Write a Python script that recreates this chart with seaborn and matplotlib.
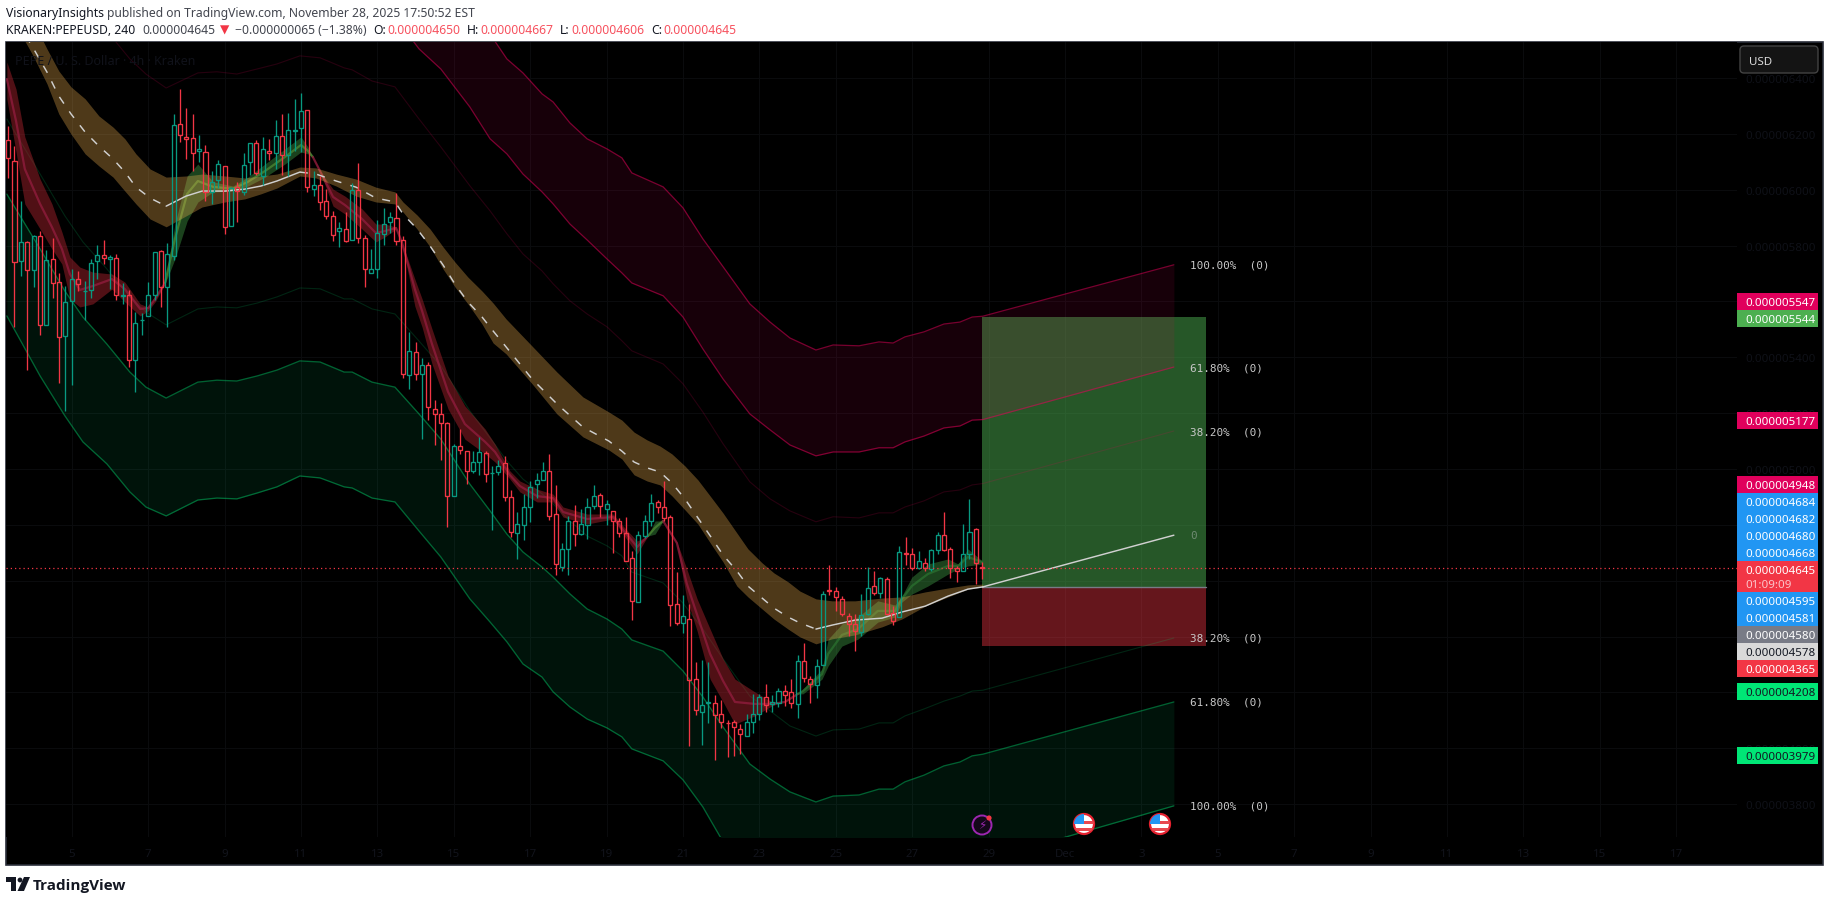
#RECREATING THE PEPEUSD 4H TRADINGVIEW SCREENSHOT
import matplotlib
matplotlib.use('Agg')
import matplotlib.pyplot as plt
from matplotlib.patches import Circle, FancyBboxPatch, Polygon, Rectangle
import numpy as np
import seaborn as sns

#CANDLES, PRICES IN BILLIONTHS OF A DOLLAR
opens = [6177,6102,5744,5814,5714,5833,5515,5751,5668,5475,5600,5679,5636,5640,5744,5765,5751,5754,5621,5622,
         5389,5534,5547,5622,5779,5651,5762,6234,6190,6184,6137,6134,5991,6034,6084,5869,6008,5991,6098,6166,
         6048,6137,6130,6191,6123,6211,6220,6284,6001,6016,5958,5905,5851,5858,5821,5998,5826,5703,5715,5840,
         5883,5898,5819,5336,5418,5339,5371,5214,5196,5164,4903,5082,5064,4992,5024,5056,4986,4988,5020,4899,
         4772,4798,4863,4945,4959,4992,4838,4648,4713,4813,4766,4798,4866,4906,4856,4849,4813,4770,4680,4523,
         4759,4813,4881,4863,4827,4516,4448,4462,4247,4129,4164,4161,4122,4092,4093,4068,4043,4093,4122,4183,
         4157,4161,4204,4201,4158,4312,4247,4226,4297,4566,4562,4534,4473,4444,4415,4480,4580,4555,4605,4483,
         4469,4698,4695,4644,4662,4641,4709,4763,4712,4644,4634,4695,4784,4650]
highs = [6227,6155,5958,5818,5836,5851,5783,5827,5701,5654,5715,5709,5672,5751,5801,5820,5765,5769,5665,5640,
         5562,5559,5668,5776,5783,5809,6270,6360,6292,6270,6196,6159,6066,6105,6084,6008,6028,6130,6166,6177,
         6187,6181,6248,6270,6273,6323,6346,6284,6066,6048,6001,5923,5883,5919,6023,6096,5838,5788,5890,5933,
         5920,5988,5833,5490,5454,5396,5382,5246,5235,5167,5089,5144,5064,5064,5114,5064,5011,5031,5045,4924,
         4846,4911,4956,4985,5025,5053,4942,4734,4831,4870,4856,4895,4942,4913,4888,4849,4823,4827,4705,4777,
         4834,4909,4888,4956,4834,4630,4548,4516,4308,4315,4308,4190,4172,4101,4101,4086,4122,4194,4194,4231,
         4191,4215,4226,4248,4333,4377,4258,4319,4562,4656,4576,4544,4483,4480,4551,4648,4634,4612,4612,4508,
         4723,4755,4716,4705,4680,4712,4773,4845,4720,4652,4802,4893,4788,4667]
lows = [6040,5510,5692,5356,5653,5478,5515,5612,5309,5206,5299,5639,5535,5612,5680,5735,5646,5606,5589,5364,
        5277,5478,5547,5606,5581,5510,5750,6172,6111,6066,6100,5958,5950,6006,5843,5869,5886,5980,6054,6054,
        6018,6108,6073,6054,6048,6137,6134,5993,5979,5929,5896,5818,5793,5814,5821,5810,5652,5702,5682,5803,
        5844,5803,5324,5288,5320,5109,5177,5086,5034,4794,4903,5055,4948,4987,4980,4955,4783,4980,4887,4758,
        4679,4745,4812,4895,4959,4816,4622,4634,4622,4726,4763,4748,4856,4829,4801,4701,4758,4672,4461,4523,
        4753,4797,4844,4813,4439,4441,4414,4010,4118,4013,4092,3960,4072,3970,3974,3978,4043,4055,4100,4129,
        4129,4148,4151,4143,4108,4236,4164,4179,4297,4550,4491,4473,4401,4347,4403,4476,4548,4537,4477,4440,
        4469,4656,4637,4641,4634,4634,4695,4705,4609,4594,4634,4677,4587,4606]
closes = [6112,5740,5812,5711,5833,5515,5747,5665,5472,5597,5679,5661,5637,5736,5765,5754,5758,5622,5622,5389,
          5522,5535,5622,5776,5651,5769,6230,6195,6180,6130,6144,5991,6029,6091,5865,6005,5994,6087,6166,6061,
          6144,6130,6191,6123,6212,6212,6280,6008,6016,5957,5905,5836,5862,5815,5998,5826,5715,5715,5844,5876,
          5901,5815,5339,5422,5339,5371,5221,5198,5164,4903,5082,5067,4992,5024,5060,4981,4987,5010,4899,4776,
          4802,4863,4934,4959,4992,4831,4661,4713,4813,4766,4802,4863,4902,4866,4874,4813,4770,4672,4526,4763,
          4813,4877,4863,4826,4512,4448,4473,4244,4136,4154,4165,4118,4093,4091,4075,4050,4093,4122,4183,4154,
          4165,4204,4192,4161,4312,4251,4229,4294,4551,4562,4541,4480,4444,4419,4476,4573,4555,4609,4480,4455,
          4702,4696,4644,4670,4644,4709,4763,4709,4644,4634,4695,4773,4662,4645]

#OUTER BANDS
band_days = [3.30,4.17,4.82,5.29,5.92,6.52,6.94,7.47,8.30,8.80,9.32,9.85,10.37,10.97,11.50,12.13,12.34,12.86,13.46,14.09,
             14.66,15.42,15.95,16.39,16.81,17.31,17.60,18.04,18.49,19.01,19.40,19.66,20.48,21.00,21.52,22.05,22.75,23.28,23.80,24.48,
             24.93,25.61,26.13,26.50,26.81,27.31,27.83,28.25,28.57,28.85,33.85]
green_100 = [5548,5333,5190,5097,5018,4918,4864,4832,4889,4896,4893,4914,4936,4975,4968,4936,4932,4896,4882,4778,
             4685,4535,4452,4381,4302,4255,4202,4148,4105,4073,4041,3998,3955,3887,3790,3665,3532,3479,3436,3396,
             3418,3421,3443,3443,3471,3500,3532,3568,3590,3597,3794]
green_618 = [5984,5788,5637,5544,5447,5347,5293,5254,5311,5318,5315,5333,5354,5387,5383,5347,5347,5311,5293,5197,
             5107,4946,4850,4767,4703,4649,4613,4553,4499,4463,4427,4388,4348,4277,4184,4076,3944,3890,3844,3808,
             3829,3833,3854,3854,3880,3904,3937,3951,3973,3979,4166]
green_382 = [6253,6056,5906,5813,5716,5616,5562,5516,5573,5580,5577,5594,5616,5648,5645,5609,5609,5573,5555,5458,
             5369,5208,5111,5029,4964,4911,4875,4814,4760,4725,4689,4631,4592,4520,4427,4320,4187,4134,4080,4044,
             4066,4069,4091,4091,4116,4141,4169,4187,4205,4208,4395]
red_382 = [7105,6908,6758,6665,6568,6468,6414,6364,6418,6422,6414,6432,6450,6479,6472,6436,6429,6389,6368,6253,
           6153,6014,5924,5842,5770,5709,5663,5602,5555,5509,5459,5423,5376,5305,5204,5090,4954,4893,4850,4811,
           4829,4825,4843,4843,4864,4886,4918,4925,4943,4948,5136]
red_618 = [7356,7159,7009,6915,6819,6719,6665,6615,6668,6672,6665,6683,6697,6726,6719,6683,6675,6640,6618,6504,
           6432,6296,6182,6128,6056,5992,5949,5877,5820,5752,5702,5666,5620,5544,5430,5322,5197,5140,5086,5047,
           5061,5061,5076,5076,5097,5118,5147,5154,5175,5177,5365]
red_100 = [7750,7553,7402,7309,7212,7112,7058,7008,7062,7066,7058,7076,7091,7119,7112,7076,7069,7033,7012,6897,
           6808,6665,6557,6468,6418,6343,6314,6239,6182,6146,6114,6060,6010,5935,5824,5724,5591,5526,5469,5426,
           5444,5441,5455,5451,5473,5491,5519,5526,5544,5547,5731]

#BROWN MOVING AVERAGE BAND
ma_days = [3.30,3.96,4.35,4.66,4.98,5.35,5.71,6.08,6.39,6.68,7.05,7.47,7.99,8.41,9.01,9.53,9.95,10.37,10.97,11.39,
           11.92,12.44,12.96,13.46,13.67,14.04,14.38,14.72,15.03,15.37,15.74,16.03,16.37,17.05,17.70,18.38,19.06,19.40,19.72,20.06,
           20.40,20.71,21.05,21.39,21.73,22.05,22.41,22.70,23.07,23.38,23.75,24.06,24.48,24.90,25.50,26.21,26.73,27.34,27.94,28.46,28.85]
ma_mid = [6657,6514,6421,6335,6271,6206,6156,6110,6063,6009,5970,5941,5977,5995,5995,6002,6013,6031,6063,6056,
          6031,6009,5970,5956,5913,5859,5798,5730,5662,5598,5544,5494,5437,5322,5233,5150,5100,5064,5025,5004,
          4989,4950,4893,4825,4757,4692,4635,4581,4538,4502,4470,4449,4427,4441,4459,4466,4488,4509,4545,4570,4578]
ma_upper = [6772,6611,6504,6425,6368,6325,6264,6224,6182,6128,6074,6045,6049,6056,6049,6042,6049,6056,6081,6078,
            6056,6038,6009,5992,5956,5909,5859,5795,5741,5687,5637,5594,5537,5440,5347,5258,5204,5175,5132,5104,
            5082,5054,5011,4961,4900,4842,4771,4714,4664,4628,4596,4563,4535,4528,4528,4538,4542,4560,4574,4585,4588]
ma_lower = [6647,6486,6379,6271,6199,6128,6085,6045,5995,5949,5895,5867,5906,5938,5956,5967,5985,6006,6049,6042,
            6013,5977,5956,5949,5920,5859,5795,5716,5652,5591,5519,5451,5412,5305,5197,5115,5068,5036,4979,4957,
            4943,4904,4854,4803,4732,4667,4581,4542,4499,4463,4427,4399,4374,4392,4406,4435,4463,4509,4542,4570,4578]
ma_ext_days = [28.85,33.85]
ma_ext = [4578,4763]

#SHORT RIBBON PIECES
r1_days = [3.30,3.54,3.77,4.17,4.48,4.74,4.95,5.21,5.55,6.05,6.39,6.79,7.00,7.18,7.44]
r1_up = [6457,6360,6189,6038,5949,5849,5759,5723,5705,5698,5669,5591,5580,5619,5669]
r1_low = [6325,6135,5949,5859,5788,5734,5609,5580,5591,5644,5598,5548,5566,5598,5662]
r1_mid = [6396,6246,6074,5949,5866,5788,5698,5641,5655,5680,5644,5573,5576,5609,5666]
g1_days = [7.44,7.70,8.02,8.30,8.70,9.22,9.61,10.06,10.58,11.00,11.18,11.31]
g1_up = [5669,5877,6049,6092,6028,6013,6045,6092,6146,6189,6153,6117]
g1_low = [5662,5752,5888,5956,5992,5995,6013,6045,6092,6135,6128,6117]
g1_mid = [5666,5824,5985,6031,6010,6003,6028,6067,6117,6160,6139,6117]
r2_days = [11.31,11.55,11.84,12.15,12.60,12.96,13.20,13.49,13.64]
r2_up = [6117,6056,6002,5977,5931,5877,5877,5866,5813]
r2_low = [6117,6045,5941,5913,5859,5813,5831,5859,5813]
r2_mid = [6117,6053,5974,5945,5895,5845,5852,5863,5813]
r3_days = [13.64,13.98,14.17,14.43,14.85,15.29,15.82,16.08,16.47,16.73,17.18,17.60,17.86,18.49,19.17,19.43,19.80,20.08]
r3_up = [5813,5680,5609,5501,5333,5226,5143,5089,4993,4957,4928,4910,4864,4839,4839,4796,4742,4760]
r3_low = [5813,5583,5508,5376,5215,5107,5054,5025,4964,4918,4882,4882,4828,4803,4821,4767,4696,4760]
r3_mid = [5813,5644,5566,5447,5276,5161,5097,5061,4978,4939,4903,4896,4846,4821,4828,4782,4721,4760]
g2_days = [20.08,20.27,20.48]
g2_up = [4760,4814,4814]
g2_low = [4760,4767,4814]
g2_mid = [4760,4790,4814]
r4_days = [20.48,20.84,21.10,21.37,21.71,22.05,22.36,22.88,23.33,23.67,24.01]
r4_up = [4814,4739,4642,4535,4427,4320,4248,4202,4166,4166,4195]
r4_low = [4814,4732,4535,4420,4248,4166,4087,4116,4152,4170,4195]
r4_mid = [4814,4735,4589,4478,4338,4241,4166,4159,4159,4166,4195]
g3_days = [24.01,24.14,24.64,24.80,25.16,25.58,26.10,26.55,26.73,26.99,27.41,27.94,28.20,28.46,28.83]
g3_up = [4195,4212,4284,4391,4445,4470,4528,4513,4545,4613,4660,4678,4660,4714,4671]
g3_low = [4195,4195,4248,4295,4366,4391,4452,4470,4524,4552,4581,4624,4642,4653,4660]
g3_mid = [4195,4205,4266,4338,4406,4427,4492,4492,4535,4581,4624,4653,4653,4685,4667]

#LONG POSITION BOX
entry_price = 4578
target_price = 5544
stop_price = 4365
box_days = [28.83,34.69]

#TICKS AND LABELS
x_ticks = [5,7,9,11,13,15,17,19,21,23,25,27,29,31,33,35,37,39,41,43,45,47]
x_labels = ['5','7','9','11','13','15','17','19','21','23','25','27','29','Dec','3','5','7','9','11','13','15','17']
y_ticks = [3800,4000,4200,4400,4600,4800,5000,5200,5400,5600,5800,6000,6200,6400]
fib_names = ['100.00%  (0)','61.80%  (0)','38.20%  (0)','0','38.20%  (0)','61.80%  (0)','100.00%  (0)']
fib_prices = [red_100[-1],red_618[-1],red_382[-1],ma_ext[-1],green_382[-1],green_618[-1],green_100[-1]]
fib_colors = ['#c8c8c8','#c8c8c8','#c8c8c8','#6f8a72','#c8c8c8','#c8c8c8','#c8c8c8']

#PRICE TAGS ON THE RIGHT: TEXT, TOP PIXEL, BOX COLOUR, TEXT COLOUR
tag_texts = ['0.000005547','0.000005544','0.000005177','0.000004948','0.000004684','0.000004682','0.000004680','0.000004668',
             '0.000004595','0.000004581','0.000004580','0.000004578','0.000004365','0.000004208','0.000003979']
tag_tops = [294,311,413,477,494,511,528,545,593,610,627,644,661,684,748]
tag_colors = ['#e0005c','#4caf50','#e0005c','#e0005c','#2196f3','#2196f3','#2196f3','#2196f3',
              '#2196f3','#2196f3','#787b86','#d9d9d9','#f23645','#00e676','#00e676']
tag_text_colors = ['white','white','white','white','white','white','white','white',
                   'white','white','white','#131722','white','#131722','#131722']

sns.set_theme(style='dark', rc={'axes.facecolor': 'black', 'figure.facecolor': 'white'})
plt.rcParams['font.family'] = ['Noto Sans', 'DejaVu Sans']

W, H = 1829, 903
fig = plt.figure(figsize=(W / 100, H / 100), dpi=100)

#BACK LAYER IN PIXELS: BLACK PANEL AND ITS FRAME
back = fig.add_axes([0, 0, 1, 1], zorder=0)
back.set_xlim(0, W)
back.set_ylim(H, 0)
back.axis('off')
back.add_patch(Rectangle((6, 43), 1817, 823, facecolor='black', edgecolor='#2a2e39', linewidth=1.2))

#PRICE PANE
px_left, px_right, px_top, px_bottom = 6, 1737, 43, 838
ax = fig.add_axes([px_left / W, 1 - px_bottom / H, (px_right - px_left) / W, (px_bottom - px_top) / H], zorder=1)
ax.set_facecolor('black')
for spine in ax.spines.values():
    spine.set_visible(False)

candle_days = 28.8333 - (len(opens) - 1 - np.arange(len(opens))) / 6

#LONG POSITION BOX UNDER THE BANDS
ax.fill_between(box_days, entry_price, target_price, color='#4caf50', alpha=0.5, linewidth=0, zorder=1)
ax.fill_between(box_days, stop_price, entry_price, color='#f23645', alpha=0.42, linewidth=0, zorder=1)
ax.plot(box_days, [entry_price, entry_price], color='#787b86', linewidth=1, zorder=2)

#OUTER BANDS, LINES ARE SEE-THROUGH SO THEY FADE OVER THE GREEN BOX
ax.fill_between(band_days, red_618, red_100, color='#e6005a', alpha=0.1, linewidth=0, zorder=2)
ax.fill_between(band_days, green_100, green_618, color='#00e676', alpha=0.085, linewidth=0, zorder=2)
for vals, col, lw, a in [(red_100, '#e6005a', 0.9, 0.52), (red_618, '#e6005a', 0.9, 0.52), (red_382, '#e6005a', 0.8, 0.17),
                         (green_100, '#00e676', 0.95, 0.42), (green_618, '#00e676', 0.95, 0.42), (green_382, '#00e676', 0.8, 0.16)]:
    sns.lineplot(x=band_days, y=vals, color=col, linewidth=lw, alpha=a, ax=ax, estimator=None, sort=False, errorbar=None, zorder=3)

#SHORT RIBBON
ribbon = [(r1_days, r1_up, r1_low, r1_mid, '#a8222c', '#8f1c3c'),
          (g1_days, g1_up, g1_low, g1_mid, '#3a8c3e', '#4a8632'),
          (r2_days, r2_up, r2_low, r2_mid, '#a8222c', '#8f1c3c'),
          (r3_days, r3_up, r3_low, r3_mid, '#a8222c', '#8f1c3c'),
          (g2_days, g2_up, g2_low, g2_mid, '#3a8c3e', '#4a8632'),
          (r4_days, r4_up, r4_low, r4_mid, '#a8222c', '#8f1c3c'),
          (g3_days, g3_up, g3_low, g3_mid, '#3a8c3e', '#2a6e2e')]
for days, up, low, mid, fill_col, mid_col in ribbon:
    ax.fill_between(days, low, up, color=fill_col, alpha=0.48, linewidth=0, zorder=4)
    sns.lineplot(x=days, y=mid, color=mid_col, linewidth=1.6, alpha=0.8, ax=ax, estimator=None, sort=False, errorbar=None, zorder=4)

#BROWN BAND OVER THE RIBBON
ax.fill_between(ma_days, ma_lower, ma_upper, color='#ffbb54', alpha=0.31, linewidth=0, zorder=5)

#MIDDLE LINE IS DASHED WHEN FALLING AND SOLID WHEN RISING
ma_days_arr = np.array(ma_days)
ma_mid_arr = np.array(ma_mid)
for start, end, style in [(3.3, 7.47, (0, (5.5, 6.5))), (7.47, 10.97, '-'), (10.97, 24.48, (0, (5.5, 6.5))), (24.48, 28.85, '-')]:
    keep = (ma_days_arr >= start) & (ma_days_arr <= end)
    sns.lineplot(x=ma_days_arr[keep], y=ma_mid_arr[keep], color='#d0d0d0', linewidth=1.05, linestyle=style,
                 ax=ax, estimator=None, sort=False, errorbar=None, zorder=6)
sns.lineplot(x=ma_ext_days, y=ma_ext, color='#d0d0d0', linewidth=1.05, ax=ax, estimator=None, sort=False, errorbar=None, zorder=6)

#CANDLES: HOLLOW BODY, WICK STOPS AT THE BODY
opens_arr, closes_arr = np.array(opens), np.array(closes)
highs_arr, lows_arr = np.array(highs), np.array(lows)
candle_colors = np.where(closes_arr >= opens_arr, '#089981', '#f23645')
body_top = np.maximum(opens_arr, closes_arr)
body_bot = np.minimum(opens_arr, closes_arr)
ax.vlines(candle_days, body_top, highs_arr, colors=candle_colors, linewidth=0.95, zorder=7)
ax.vlines(candle_days, lows_arr, body_bot, colors=candle_colors, linewidth=0.95, zorder=7)
ax.bar(candle_days, body_top - body_bot, bottom=body_bot, width=0.105, fill=False, edgecolor=candle_colors, linewidth=0.95, zorder=7)

#LAST PRICE LINE
ax.axhline(closes[-1], color='#f23645', linewidth=0.9, linestyle=(0, (1, 2.4)), zorder=8)

#FIB LEVEL LABELS
for name, price, col in zip(fib_names, fib_prices, fib_colors):
    ax.text(34.27, price, name, color=col, fontsize=7.9, family='DejaVu Sans Mono', va='center', ha='left', clip_on=False, zorder=9)

#AXES
ax.set_xlim(21 + (px_left - 683) / 38.2, 21 + (px_right - 683) / 38.2)
ax.set_ylim(6682.6 - 3.58 * px_bottom, 6682.6 - 3.58 * px_top)
ax.set_xlabel('')
ax.set_ylabel('')
ax.set_xticks(x_ticks)
ax.set_xticklabels(x_labels)
ax.set_yticks(y_ticks)
ax.set_yticklabels([f'{v / 1e9:.9f}' for v in y_ticks])
ax.yaxis.tick_right()
ax.tick_params(axis='x', length=0, pad=8, labelsize=8.2, labelcolor='#12141c')
ax.tick_params(axis='y', length=0, pad=6, labelsize=8.3, labelcolor='#0f1118')
ax.grid(True, color='#0a0b0d', linewidth=0.8, zorder=0)
ax.set_axisbelow(True)

#FRONT LAYER IN PIXELS: TAGS, HEADER, ICONS, FOOTER
front = fig.add_axes([0, 0, 1, 1], zorder=2)
front.set_xlim(0, W)
front.set_ylim(H, 0)
front.axis('off')

for text, top, col, text_col in zip(tag_texts, tag_tops, tag_colors, tag_text_colors):
    front.add_patch(Rectangle((1737, top), 81, 17, facecolor=col, edgecolor='none'))
    front.text(1745, top + 8.5, text, color=text_col, fontsize=8.3, va='center_baseline', ha='left')

#LAST PRICE TAG WITH COUNTDOWN
front.add_patch(Rectangle((1737, 562), 81, 31, facecolor='#f23645', edgecolor='none'))
front.text(1745, 570.5, f'{closes[-1] / 1e9:.9f}', color='white', fontsize=8.3, va='center_baseline', ha='left')
front.text(1745, 584.5, '01:09:09', color='#fbc5ca', fontsize=8.3, va='center_baseline', ha='left')

#USD BUTTON
front.add_patch(FancyBboxPatch((1742, 49), 74, 23, boxstyle='round,pad=2,rounding_size=4', facecolor='#141414', edgecolor='#434343', linewidth=1))
front.text(1749, 61, 'USD', color='#dbdbdb', fontsize=8.3, va='center_baseline', ha='left')

#WATERMARK TITLE
front.text(15, 60, 'PEPE / U. S. Dollar · 4h · Kraken', color='#10121a', fontsize=9, va='center_baseline', ha='left')

#HEADER LINES ARE CHAINED SO EACH PIECE STARTS WHERE THE LAST ENDS
renderer = fig.canvas.get_renderer()
def chain(x, y, pieces):
    for text, col, weight, gap in pieces:
        t = front.text(x, y, text, color=col, fontsize=8.75, fontweight=weight, va='center_baseline', ha='left')
        x = t.get_window_extent(renderer).x1 + gap

dark, grey, red = '#131722', '#43464f', '#f7525f'
chain(6, 12, [('VisionaryInsights', dark, 'bold', 3), ('published on TradingView.com, November 28, 2025 17:50:52 EST', grey, 'normal', 0)])
chain(6, 29, [('KRAKEN:PEPEUSD, 240', dark, 'bold', 7), ('0.000004645', grey, 'normal', 5), ('▼', '#f23645', 'normal', 5),
              ('−0.000000065 (−1.38%)', grey, 'normal', 7), ('O:', dark, 'bold', 1), ('0.000004650', red, 'normal', 7),
              ('H:', dark, 'bold', 1), ('0.000004667', red, 'normal', 7), ('L:', dark, 'bold', 1), ('0.000004606', red, 'normal', 7),
              ('C:', dark, 'bold', 1), ('0.000004645', red, 'normal', 0)])

#EVENT ICONS
front.add_patch(Circle((982, 826), 9.5, facecolor='#14071a', edgecolor='#9c27b0', linewidth=1.4))
front.text(982, 826, '⚡', color='#9c27b0', fontsize=8.5, family='DejaVu Sans', ha='center', va='center')
front.add_patch(Circle((989, 819), 2.6, facecolor='#f23645', edgecolor='none'))
for cx in [1084, 1160]:
    ring = Circle((cx, 825), 10, facecolor='white', edgecolor='#e5212f', linewidth=1.6)
    front.add_patch(ring)
    for sy in [822, 829]:
        stripe = Rectangle((cx - 10, sy), 20, 3, facecolor='#e8484f', edgecolor='none')
        front.add_patch(stripe)
        stripe.set_clip_path(ring)
    canton = Rectangle((cx - 10, 815), 10, 10, facecolor='#2196f3', edgecolor='none')
    front.add_patch(canton)
    canton.set_clip_path(ring)

#TRADINGVIEW LOGO
front.add_patch(Polygon([(6, 878), (16, 878), (16, 892), (11, 892), (11, 883), (6, 883)], facecolor=dark, edgecolor='none'))
front.add_patch(Circle((20, 881), 2.4, facecolor=dark, edgecolor='none'))
front.add_patch(Polygon([(24, 878), (30, 878), (24, 892), (17.5, 892)], facecolor=dark, edgecolor='none'))
front.text(33, 885, 'TradingView', color=dark, fontsize=11, fontweight='bold', family='Open Sans', va='center_baseline', ha='left')

plt.savefig('out.png', dpi=100)
